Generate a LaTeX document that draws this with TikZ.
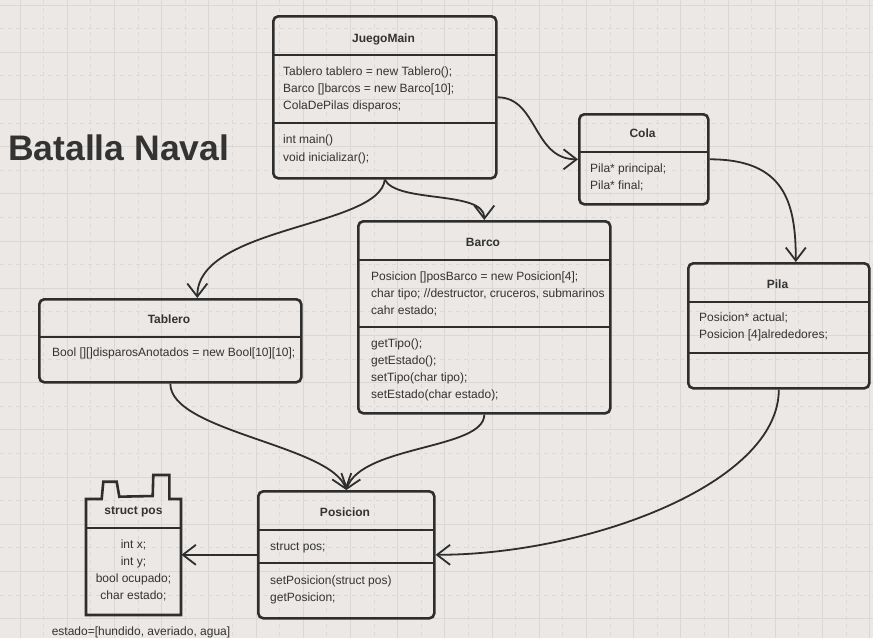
\documentclass[tikz,border=0pt]{standalone}
\usepackage{fontspec}
\setmainfont{Liberation Sans}
\usetikzlibrary{arrows.meta,calc}
\definecolor{paper}{HTML}{EBE8E5}
\definecolor{gridsolid}{HTML}{DAD7D4}
\definecolor{griddash}{HTML}{DCD9D6}
\definecolor{ink}{HTML}{2E2E2E}
\definecolor{txt}{HTML}{333333}

\begin{document}
\begin{tikzpicture}[x=1pt,y=-1pt,
  classbox/.style={draw=ink, line width=2.6pt, rounded corners=5pt, inner sep=0pt, anchor=north west},
  sepline/.style={draw=ink, line width=1.8pt},
  member/.style={anchor=base west, inner sep=0pt, text=txt, font=\fontsize{12}{14}\selectfont},
  centred/.style={anchor=base, inner sep=0pt, text=txt, font=\fontsize{12}{14}\selectfont},
  classname/.style={anchor=base, inner sep=0pt, text=txt, font=\bfseries\fontsize{12}{14}\selectfont},
  conn/.style={draw=ink, line width=1.8pt, -{Straight Barb[length=13pt,width=20pt,line width=1.8pt]}}
]
% canvas and grid
\fill[paper] (0,0) rectangle (873,638);
\useasboundingbox (0,0) rectangle (873,638);
\foreach \i in {0,...,18} {
  \draw[gridsolid, line width=0.8pt] ({20+47.2*\i},0) -- ({20+47.2*\i},638);
  \draw[griddash, line width=0.7pt, dash pattern=on 4pt off 4pt] ({43.6+47.2*\i},0) -- ({43.6+47.2*\i},638);
}
\foreach \j in {0,...,13} {
  \draw[gridsolid, line width=0.8pt] (0,{5+47.2*\j}) -- (873,{5+47.2*\j});
  \draw[griddash, line width=0.7pt, dash pattern=on 4pt off 4pt] (0,{28.6+47.2*\j}) -- (873,{28.6+47.2*\j});
}

% heading
\node[anchor=base west, inner sep=0pt, text=txt, font=\bfseries\fontsize{35.5}{40}\selectfont] (heading) at (8,160) {Batalla Naval};

% JuegoMain
\node[classbox, minimum width=223pt, minimum height=162pt] (juego) at (272,15) {};
\node[classname] (juegoT) at (383.5,42) {JuegoMain};
\draw[sepline] (272,55) -- (495,55);
\node[member] (j1) at (283,75) {Tablero tablero = new Tablero();};
\node[member] (j2) at (283,92) {Barco []barcos = new Barco[10];};
\node[member] (j3) at (283,109) {ColaDePilas disparos;};
\draw[sepline] (272,123) -- (495,123);
\node[member] (j4) at (283,143) {int main()};
\node[member] (j5) at (283,161) {void inicializar();};

% Cola
\node[classbox, minimum width=129pt, minimum height=90pt] (cola) at (578,113) {};
\node[classname] (colaT) at (642.5,137) {Cola};
\draw[sepline] (578,152) -- (707,152);
\node[member] (c1) at (590,172) {Pila* principal;};
\node[member] (c2) at (590,189) {Pila* final;};

% Barco
\node[classbox, minimum width=252pt, minimum height=192pt] (barco) at (357,220) {};
\node[classname] (barcoT) at (483,246) {Barco};
\draw[sepline] (357,260) -- (609,260);
\node[member] (b1) at (371,280) {Posicion []posBarco = new Posicion[4];};
\node[member] (b2) at (371,297) {char tipo; //destructor, cruceros, submarinos};
\node[member] (b3) at (371,314) {cahr estado;};
\draw[sepline] (357,327) -- (609,327);
\node[member] (b4) at (371,347) {getTipo();};
\node[member] (b5) at (371,364) {getEstado();};
\node[member] (b6) at (371,381) {setTipo(char tipo);};
\node[member] (b7) at (371,398) {setEstado(char estado);};

% Tablero
\node[classbox, minimum width=262pt, minimum height=83pt] (tablero) at (38,298) {};
\node[classname] (tableroT) at (169,323) {Tablero};
\draw[sepline] (38,337) -- (300,337);
\node[member] (t1) at (52,356) {Bool [][]disparosAnotados = new Bool[10][10];};

% Pila
\node[classbox, minimum width=181pt, minimum height=125pt] (pila) at (687,262) {};
\node[classname] (pilaT) at (777.5,288) {Pila};
\draw[sepline] (687,302) -- (868,302);
\node[member] (p1) at (699,321) {Posicion* actual;};
\node[member] (p2) at (699,338) {Posicion [4]alrededores;};
\draw[sepline] (687,353) -- (868,353);

% Posicion
\node[classbox, minimum width=176pt, minimum height=127pt] (posicion) at (257,490) {};
\node[classname] (posicionT) at (345,516) {Posicion};
\draw[sepline] (257,530) -- (433,530);
\node[member] (q1) at (270,550) {struct pos;};
\draw[sepline] (257,563) -- (433,563);
\node[member] (q2) at (270,584) {setPosicion(struct pos)};
\node[member] (q3) at (270,601) {getPosicion;};

% struct pos (tabbed outline)
\node[anchor=north west, inner sep=0pt, minimum width=95pt, minimum height=116pt] (spos) at (86,499) {};
\draw[ink, line width=2.6pt] (86,499) -- (101.7,499) -- (103.3,481.7) -- (116.7,481.7) -- (119.3,496.7)
  -- (152.7,496) -- (153.3,475) -- (169.3,475) -- (169.3,499) -- (181,499) -- (181,615) -- (86,615) -- cycle;
\node[classname] (sposT) at (133.5,514) {struct pos};
\draw[sepline] (86,528) -- (181,528);
\node[centred] (s1) at (133.5,548) {int x;};
\node[centred] (s2) at (133.5,565) {int y;};
\node[centred] (s3) at (133.5,582) {bool ocupado;};
\node[centred] (s4) at (133.5,599) {char estado;};
\node[centred] (note) at (141,635) {estado=[hundido, averiado, agua]};

% connectors
\draw[conn] (juego.east) .. controls +(40,0) and +(-45,0) .. (cola.west);
\draw[conn] (cola.east) .. controls +(75,0) and +(0,-60) .. ($(pila.north)+(17,0)$);
\draw[conn] (juego.south) .. controls +(-5,48) and +(0,-72) .. ($(tablero.north)+(27,0)$);
\draw[conn] (juego.south) .. controls +(12,24) and +(0,-30) .. (barco.north);
\draw[conn] (tablero.south) .. controls +(0,48) and +(-15,-45) .. (posicion.north);
\draw[conn] (barco.south) .. controls +(0,35) and +(15,-45) .. (posicion.north);
\draw[conn] (pila.south) .. controls +(0,95) and +(150,0) .. (posicion.east);
\draw[conn] (posicion.west) -- (posicion.west -| spos.east);
\end{tikzpicture}
\end{document}
